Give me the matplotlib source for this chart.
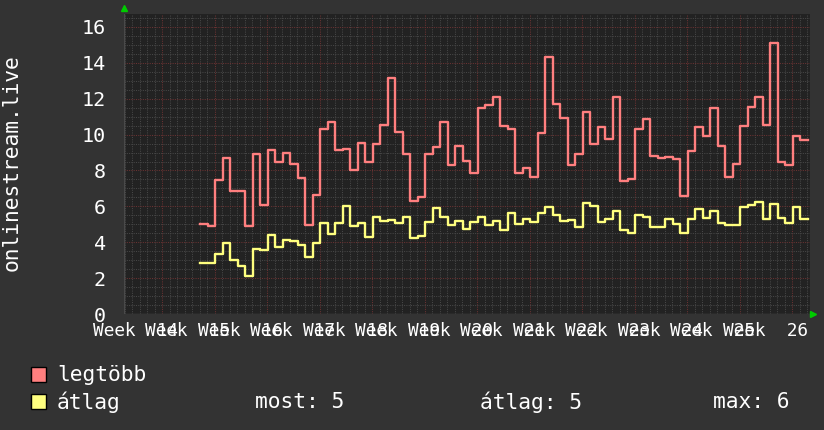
import matplotlib
matplotlib.use('Agg')
import matplotlib.pyplot as plt
from matplotlib.transforms import blended_transform_factory
import numpy as np

# napi értékek (legtöbb / átlag), hetek 14-26
legtobb = [5.02, 4.89, 7.48, 8.69, 6.84, 6.88, 4.89, 8.91, 6.10, 9.12, 8.47, 9.00, 8.34, 7.57, 4.98, 6.62,
           10.31, 10.70, 9.12, 9.19, 8.00, 9.53, 8.45, 9.47, 10.53, 13.15, 10.14, 8.90, 6.32, 6.51, 8.90, 9.30,
           10.70, 8.28, 9.36, 8.52, 7.87, 11.47, 11.66, 12.10, 10.46, 10.31, 7.87, 8.13, 7.61, 10.11, 14.34, 11.71,
           10.93, 8.28, 8.91, 11.24, 9.45, 10.41, 9.73, 12.08, 7.44, 7.51, 10.31, 10.89, 8.82, 8.67, 8.75, 8.63,
           6.60, 9.08, 10.42, 9.90, 11.47, 9.36, 7.66, 8.35, 10.48, 11.54, 12.08, 10.52, 15.12, 8.45, 8.30, 9.90,
           9.70]
atlag = [2.87, 2.87, 3.34, 3.93, 3.00, 2.70, 2.13, 3.65, 3.58, 4.38, 3.71, 4.14, 4.05, 3.84, 3.19, 3.93,
         5.09, 4.46, 5.05, 6.04, 4.89, 5.05, 4.27, 5.39, 5.17, 5.26, 5.09, 5.41, 4.21, 4.33, 5.11, 5.89,
         5.39, 4.96, 5.20, 4.72, 5.11, 5.39, 4.96, 5.20, 4.66, 5.61, 5.00, 5.28, 5.11, 5.63, 5.97, 5.54,
         5.20, 5.26, 4.83, 6.21, 6.00, 5.11, 5.28, 5.76, 4.70, 4.53, 5.54, 5.39, 4.87, 4.87, 5.31, 5.00,
         4.53, 5.31, 5.87, 5.37, 5.76, 5.09, 4.94, 4.94, 5.95, 6.08, 6.23, 5.30, 6.12, 5.37, 5.09, 5.97,
         5.31]
hetek = list(range(14, 27))
kezdo_nap = 5.1  # első adat napja a 14. hét elejéhez képest

plt.rcParams['font.family'] = ['DejaVu Sans Mono']

bg = '#333333'
canvas = '#222222'
piros = '#ff7f7f'
sarga = '#ffff7f'

fig = plt.figure(figsize=(8.24, 4.30), dpi=100, facecolor=bg)
W, H = 824, 430
ax = fig.add_axes([124 / W, 1 - 314 / H, (810 - 124) / W, (314 - 13.5) / H])
ax.set_facecolor(canvas)

xlim = (-5.07, 86.4)
ylim = (0, 16.75)
ax.set_xlim(*xlim)
ax.set_ylim(*ylim)

# rács
for d in np.arange(-5, 87, 1):
    major = d % 7 == 0
    ax.axvline(d, color='#6a3232' if major else '#474747', lw=0.75,
               ls=(0, (1, 1.2)), zorder=1)
for v in np.arange(0.5, 16.75, 0.5):
    major = abs(v % 2) < 1e-9
    ax.axhline(v, color='#6a3232' if major else '#474747', lw=0.75,
               ls=(0, (1, 1.2)), zorder=1)

n = len(legtobb)
x = kezdo_nap + np.arange(n + 1)
ax.step(x, legtobb + [legtobb[-1]], where='post', color=piros, lw=1.7, zorder=3)
ax.step(x, atlag + [atlag[-1]], where='post', color=sarga, lw=1.7, zorder=3)

for s in ax.spines.values():
    s.set_visible(False)
ax.axhline(0, color='#4a4a4a', lw=1, zorder=2)
ax.axvline(xlim[0], color='#4a4a4a', lw=1, zorder=2)

ax.set_xticks([])
ax.set_yticks(range(0, 17, 2))
ax.tick_params(axis='y', length=0, pad=13, labelsize=14.5, labelcolor='white')

# hét feliratok (egymásra csúsznak, mint az eredetin)
trans = blended_transform_factory(ax.transData, ax.transAxes)
for i, h in enumerate(hetek):
    ax.text(7 * i - 3.6, -0.055, 'Week  %d' % h, transform=trans, ha='center', va='center',
            color='white', fontsize=12.8, clip_on=False)

# zöld nyilak
ax.plot([xlim[0]], [ylim[1] + 0.3], marker='^', color='#00cc00', ms=5, clip_on=False, zorder=5)
ax.plot([xlim[1] + 0.35], [0], marker='>', color='#00cc00', ms=5, clip_on=False, zorder=5)

fig.text(12 / W, 1 - 163 / H, 'onlinestream.live', rotation=90, ha='center', va='center',
         color='white', fontsize=15.3)

# jelmagyarázat
fs = 15.3
for yy, c in [(374.5, piros), (401.5, sarga)]:
    fig.patches.append(plt.Rectangle((31 / W, 1 - (yy + 7.5) / H), 15 / W, 15 / H,
                                     transform=fig.transFigure, facecolor=c, edgecolor='black', lw=1))
fig.text(57 / W, 1 - 375 / H, 'legtöbb', color='white', fontsize=fs, va='center')
fig.text(57 / W, 1 - 402 / H, 'átlag', color='white', fontsize=fs, va='center')
fig.text(255 / W, 1 - 402 / H, 'most: %d' % round(atlag[-1]), color='white', fontsize=fs, va='center')
fig.text(480 / W, 1 - 402 / H, 'átlag: %d' % round(np.mean(atlag)), color='white', fontsize=fs, va='center')
fig.text(713 / W, 1 - 402 / H, 'max: %d' % round(max(atlag)), color='white', fontsize=fs, va='center')

fig.savefig('out.png', dpi=100, facecolor=bg)
